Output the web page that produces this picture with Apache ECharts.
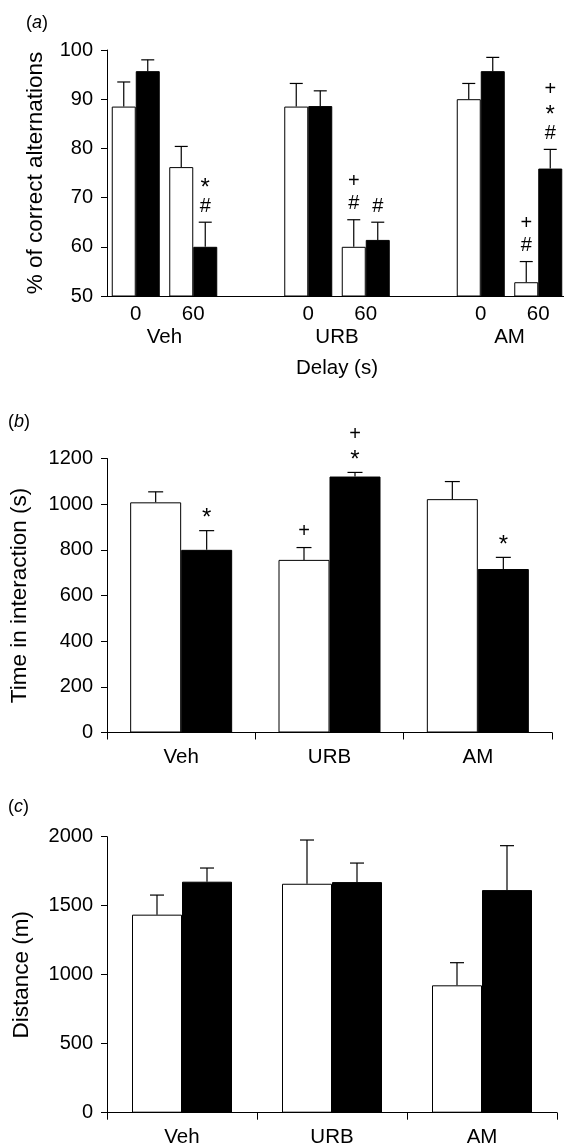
<!DOCTYPE html>
<html>
<head>
<meta charset="utf-8">
<title>ECharts</title>
<script src="https://cdn.jsdelivr.net/npm/echarts@6/dist/echarts.min.js"></script>
<style>
    html, body { margin: 0; padding: 0; background: #fff; overflow: hidden; }
    #main { width: 564px; height: 1147px; }
</style>
</head>
<body>
<div id="main"></div>
<script type="text/javascript">
// (a) alternation test: 8 slots on x, '-' = empty slot between the drug groups
var delayLabels = ['0', '60', '', '0', '60', '', '0', '60'];
var drugSlots = ['', 'Veh', '', '', 'URB', '', '', 'AM', ''];
var altOpen = [88.5, 76.2, '-', 88.5, 60.0, '-', 90.0, 52.8];
var altOpenErr = [5.0, 4.2, '-', 4.7, 5.5, '-', 3.2, 4.2];
var altFilled = [95.7, 60.0, '-', 88.6, 61.4, '-', 95.7, 75.9];
var altFilledErr = [2.3, 5.0, '-', 3.1, 3.6, '-', 2.8, 3.9];
var altOpenMarks = ['', '', '', '', '+#', '', '', '+#'];
var altFilledMarks = ['', '*#', '', '', '#', '', '', '+*#'];

// (b) time in interaction, (c) distance
var drugs = ['Veh', 'URB', 'AM'];
var timeOpen = [1008, 756, 1022];
var timeOpenErr = [46, 54, 77];
var timeFilled = [800, 1121, 716];
var timeFilledErr = [84, 18, 51];
var timeOpenMarks = ['', '+', ''];
var timeFilledMarks = ['*', '+*', '*'];

var distOpen = [1435, 1659, 923];
var distOpenErr = [142, 317, 164];
var distFilled = [1674, 1671, 1613];
var distFilledErr = [99, 138, 322];

var FONT = 'Liberation Sans, Arial, Helvetica, sans-serif';

function bars(grid, vals, filled, barW) {
    return {
        type: 'bar',
        xAxisIndex: grid,
        yAxisIndex: grid,
        data: vals,
        barWidth: barW,
        barGap: '0%',
        silent: true,
        itemStyle: filled
            ? { color: '#000', borderColor: '#000', borderWidth: 1 }
            : { color: '#fff', borderColor: '#000', borderWidth: 1 }
    };
}

// one-sided error bar (up) with cap, plus the significance marks stacked above
function errBars(grid, means, errs, marks, side, barW, capW) {
    var data = [], txt = [];
    for (var i = 0; i < means.length; i++) {
        if (means[i] === '-') continue;
        data.push([i, means[i], means[i] + errs[i]]);
        txt.push(marks ? marks[i] : '');
    }
    return {
        type: 'custom',
        xAxisIndex: grid,
        yAxisIndex: grid,
        data: data,
        z: 4,
        silent: true,
        renderItem: function (params, api) {
            var lo = api.coord([api.value(0), api.value(1)]);
            var hi = api.coord([api.value(0), api.value(2)]);
            var x = lo[0] + side * barW / 2;
            var ls = { stroke: '#000', lineWidth: 1.2 };
            var kids = [
                { type: 'line', shape: { x1: x, y1: lo[1], x2: x, y2: hi[1] }, style: ls },
                { type: 'line', shape: { x1: x - capW / 2, y1: hi[1], x2: x + capW / 2, y2: hi[1] }, style: ls }
            ];
            var m = txt[params.dataIndex];
            if (m) {
                // the asterisk is drawn bigger and a bit lower, like in the print
                var lines = m.split('').map(function (c) {
                    return c === '*' ? '{s|*}' : '{n|' + c + '}';
                });
                kids.push({
                    type: 'text',
                    x: x,
                    y: hi[1] - 5,
                    style: {
                        text: lines.join('\n'),
                        fill: '#000',
                        fontSize: 20,
                        fontFamily: FONT,
                        lineHeight: 22,
                        align: 'center',
                        verticalAlign: 'bottom',
                        rich: {
                            n: { fontSize: 20, lineHeight: 22, fontFamily: FONT, fill: '#000' },
                            s: { fontSize: 24, lineHeight: 22, fontFamily: FONT, fill: '#000', padding: [8, 0, 0, 0] }
                        }
                    }
                });
            }
            return { type: 'group', children: kids };
        }
    };
}

function plain(v) { return String(v); }

function yAx(grid, min, max, interval, name, nameGap) {
    return {
        type: 'value',
        gridIndex: grid,
        min: min,
        max: max,
        interval: interval,
        name: name,
        nameLocation: 'middle',
        nameGap: nameGap,
        nameMoveOverlap: false,
        nameTextStyle: { fontSize: 22.5, color: '#000', fontFamily: FONT },
        axisLine: { show: true, lineStyle: { color: '#000', width: 1 } },
        axisTick: { show: true, length: 6, lineStyle: { color: '#000', width: 1 } },
        axisLabel: { fontSize: 20, color: '#000', margin: 14, fontFamily: FONT, formatter: plain },
        splitLine: { show: false },
        z: 5
    };
}

function catAx(grid, data, ticks, margin) {
    return {
        type: 'category',
        gridIndex: grid,
        data: data,
        axisLine: { show: true, lineStyle: { color: '#000', width: 1 } },
        axisTick: { show: ticks, length: 7, lineStyle: { color: '#000', width: 1 } },
        axisLabel: { fontSize: 20.5, color: '#000', margin: margin, interval: 0, fontFamily: FONT },
        splitLine: { show: false },
        z: 5
    };
}

function panelTitle(letter, left, top) {
    return {
        text: '({i|' + letter + '})',
        left: left,
        top: top,
        padding: 0,
        textStyle: {
            fontSize: 18, fontWeight: 'normal', color: '#000', fontFamily: FONT,
            rich: { i: { fontStyle: 'italic', fontSize: 18, color: '#000', fontFamily: FONT } }
        }
    };
}

var groupAxis = {
    type: 'category',
    gridIndex: 3,
    data: drugSlots,
    boundaryGap: false,
    axisLine: { show: false },
    axisTick: { show: false },
    axisLabel: { fontSize: 20.5, color: '#000', margin: 31, interval: 0, fontFamily: FONT },
    name: 'Delay (s)',
    nameLocation: 'middle',
    nameGap: 62,
    nameMoveOverlap: false,
    nameTextStyle: { fontSize: 20.5, color: '#000', fontFamily: FONT }
};

var myChart = echarts.init(document.getElementById('main'));

var option = {
    animation: false,
    backgroundColor: '#fff',
    textStyle: { fontFamily: FONT },
    title: [
        panelTitle('a', 26, 14),
        panelTitle('b', 8, 413),
        panelTitle('c', 8, 798)
    ],
    grid: [
        { left: 107, top: 50, width: 460, height: 246, outerBoundsMode: 'none', containLabel: false },
        { left: 107, top: 458.5, width: 445, height: 274, outerBoundsMode: 'none', containLabel: false },
        { left: 107, top: 836.7, width: 450, height: 276, outerBoundsMode: 'none', containLabel: false },
        { left: 107, top: 50, width: 460, height: 246, outerBoundsMode: 'none', containLabel: false }
    ],
    xAxis: [
        catAx(0, delayLabels, false, 8),
        catAx(1, drugs, true, 14),
        catAx(2, drugs, true, 14),
        groupAxis
    ],
    yAxis: [
        yAx(0, 50, 100, 10, '% of correct alternations', 60),
        yAx(1, 0, 1200, 200, 'Time in interaction (s)', 76),
        yAx(2, 0, 2000, 500, 'Distance (m)', 74),
        { type: 'value', gridIndex: 3, show: false, min: 0, max: 1 }
    ],
    series: [
        bars(0, altOpen, false, 24),
        bars(0, altFilled, true, 24),
        errBars(0, altOpen, altOpenErr, altOpenMarks, -1, 24, 13),
        errBars(0, altFilled, altFilledErr, altFilledMarks, 1, 24, 13),

        bars(1, timeOpen, false, 51),
        bars(1, timeFilled, true, 51),
        errBars(1, timeOpen, timeOpenErr, timeOpenMarks, -1, 51, 15),
        errBars(1, timeFilled, timeFilledErr, timeFilledMarks, 1, 51, 15),

        bars(2, distOpen, false, 50),
        bars(2, distFilled, true, 50),
        errBars(2, distOpen, distOpenErr, null, -1, 50, 14),
        errBars(2, distFilled, distFilledErr, null, 1, 50, 14)
    ]
};

myChart.setOption(option);
</script>
</body>
</html>
